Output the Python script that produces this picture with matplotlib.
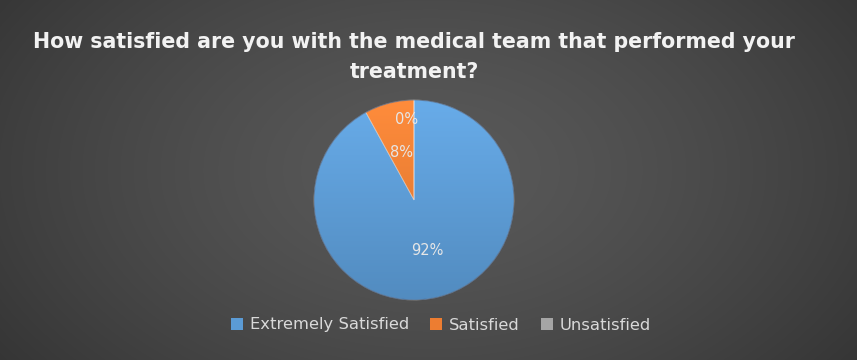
import numpy as np
import matplotlib
matplotlib.use("Agg")
import matplotlib.pyplot as plt
from matplotlib.patches import Patch
import matplotlib.colors as mcolors

# ---- data ----
title = "How satisfied are you with the medical team that performed your\ntreatment?"
categories = ["Extremely Satisfied", "Satisfied", "Unsatisfied"]
values = [92, 8, 0]
pct_labels = ["92%", "8%", "0%"]

# ---- style ----
colors = ["#5b9bd5", "#ed7d31", "#a5a5a5"]
label_dist = [0.52, 0.49, 0.80]
label_dx = [0.0, 0.0, -0.07]

W, H = 857, 360
fig = plt.figure(figsize=(W / 100, H / 100), dpi=100)

# background radial gradient
bg = fig.add_axes([0, 0, 1, 1])
yy, xx = np.mgrid[0:H, 0:W]
cx, cy = 430, 170
d = np.sqrt(((xx - cx) / 540.0) ** 2 + ((yy - cy) / 340.0) ** 2)
d = np.clip(d, 0, 1)
c0 = np.array(mcolors.to_rgb("#595959"))
c1 = np.array(mcolors.to_rgb("#343434"))
img = c0[None, None, :] * (1 - d[..., None] ** 1.4) + c1[None, None, :] * (d[..., None] ** 1.4)
bg.imshow(img, extent=[0, W, H, 0], aspect="auto")
bg.set_xlim(0, W)
bg.set_ylim(H, 0)
bg.axis("off")

# pie axes: center (414,200), radius 100 px
cxp, cyp, R = 414, 200, 100
ax = fig.add_axes([(cxp - R) / W, (H - cyp - R) / H, 2 * R / W, 2 * R / H])
wedges, _ = ax.pie(values, colors=colors, startangle=90, counterclock=False,
                   radius=1.0, wedgeprops=dict(edgecolor=(1, 1, 1, 0.35), linewidth=0.6))
ax.set_xlim(-1, 1)
ax.set_ylim(-1, 1)
ax.set_aspect("equal")
ax.axis("off")

# vertical gradient fill clipped to each wedge
grad = np.linspace(0, 1, 256)[:, None]
for w, c in zip(wedges, colors):
    base = np.array(mcolors.to_rgb(c))
    top = np.clip(base * 1.06 + 0.03, 0, 1)
    bot = np.clip(base * 0.90, 0, 1)
    g = top[None, None, :] * (1 - grad[..., None]) + bot[None, None, :] * grad[..., None]
    g = np.repeat(g, 2, axis=1)
    im = ax.imshow(g, extent=[-1, 1, -1, 1], origin="upper", aspect="auto", zorder=w.get_zorder() - 0.01)
    im.set_clip_path(w)
    w.set_facecolor("none")

# rim
ax.add_patch(plt.Circle((0, 0), 1.0, fill=False, edgecolor=(0.2, 0.3, 0.45, 0.5), linewidth=0.8, zorder=4))

# percentage labels computed from data
total = float(sum(values))
start = 90.0
for v, lab, dist, dx in zip(values, pct_labels, label_dist, label_dx):
    sweep = 360.0 * v / total
    mid = np.deg2rad(start - sweep / 2)
    ax.text(dist * np.cos(mid) + dx, dist * np.sin(mid), lab, ha="center", va="center",
            color="#e6e6e6", fontsize=10.5, family="DejaVu Sans", zorder=5)
    start -= sweep

# title
fig.text(414 / W, 1 - 57 / H, title, ha="center", va="center", color="#f2f2f2",
         fontsize=14.8, fontweight="bold", family="DejaVu Sans", linespacing=1.65)

# legend
handles = [Patch(facecolor=c, edgecolor="none") for c in colors]
leg = fig.legend(handles, categories, loc="center", bbox_to_anchor=(441 / W, 1 - 325 / H),
                 ncol=3, frameon=False, handlelength=0.75, handleheight=0.75,
                 handletextpad=0.4, columnspacing=1.3, fontsize=11.8,
                 labelcolor="#d9d9d9")

fig.savefig("out.png", dpi=100)
